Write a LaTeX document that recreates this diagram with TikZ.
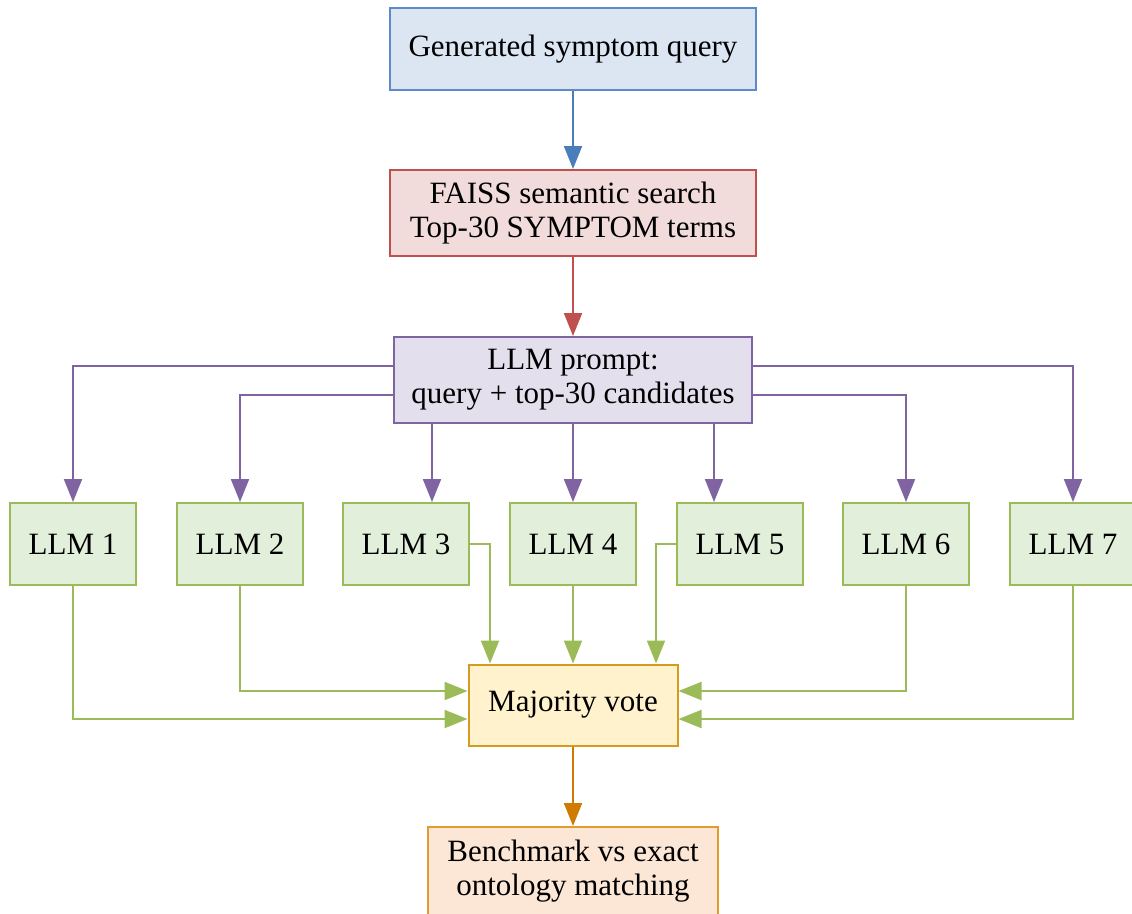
\documentclass[tikz,border=0pt]{standalone}
\usepackage{fontspec}
\setmainfont{Liberation Serif}
\usetikzlibrary{arrows.meta}
\definecolor{bfill}{HTML}{DCE6F2}\definecolor{bdraw}{HTML}{5B8BC9}\definecolor{barr}{HTML}{4A7EBB}
\definecolor{rfill}{HTML}{F2DCDB}\definecolor{rdraw}{HTML}{C0504D}
\definecolor{pfill}{HTML}{E4DFEC}\definecolor{pdraw}{HTML}{8064A2}
\definecolor{gfill}{HTML}{E2EFDA}\definecolor{gdraw}{HTML}{9BBB59}
\definecolor{yfill}{HTML}{FFF2CC}\definecolor{ydraw}{HTML}{D49B1E}
\definecolor{ofill}{HTML}{FCE6D6}\definecolor{odraw}{HTML}{E39A2E}\definecolor{oarr}{HTML}{D07A00}
\begin{document}
\begin{tikzpicture}[x=1pt,y=-1pt,
  box/.style={draw, line width=2pt, inner sep=0pt, align=center, font=\fontsize{31}{34}\selectfont},
  conn/.style={line width=2pt, -{Triangle[length=23pt,width=18pt]}}]
\useasboundingbox (0,0) rectangle (1132,913);
\node[box, fill=bfill, draw=bdraw, minimum width=366pt, minimum height=82pt] (gen) at (573,49) {Generated symptom query};
\node[box, fill=rfill, draw=rdraw, minimum width=366pt, minimum height=86pt] (faiss) at (573,213) {FAISS semantic search\\Top-30 SYMPTOM terms};
\node[box, fill=pfill, draw=pdraw, minimum width=358pt, minimum height=86pt] (prompt) at (573,380) {LLM prompt:\\query + top-30 candidates};
\foreach \i/\x in {1/73,2/240,3/406,4/573,5/740,6/906,7/1073}
  \node[box, fill=gfill, draw=gdraw, minimum width=126pt, minimum height=82pt] (l\i) at (\x,544) {LLM \i};
\node[box, fill=yfill, draw=ydraw, minimum width=209pt, minimum height=81pt] (mv) at (573,705) {Majority vote};
\node[box, fill=ofill, draw=odraw, minimum width=290pt, minimum height=88pt] (bench) at (573,871) {Benchmark vs exact\\ontology matching};
\draw[conn, barr] (gen) -- (faiss);
\draw[conn, rdraw] (faiss) -- (prompt);
\draw[conn, pdraw] ([yshift=14pt]prompt.west) -| (l1.north);
\draw[conn, pdraw] ([yshift=-15pt]prompt.west) -| (l2.north);
\draw[conn, pdraw] ([xshift=-141pt]prompt.south) -- ([xshift=26pt]l3.north);
\draw[conn, pdraw] (prompt) -- (l4);
\draw[conn, pdraw] ([xshift=141pt]prompt.south) -- ([xshift=-26pt]l5.north);
\draw[conn, pdraw] ([yshift=-15pt]prompt.east) -| (l6.north);
\draw[conn, pdraw] ([yshift=14pt]prompt.east) -| (l7.north);
\draw[conn, gdraw] (l1.south) |- ([yshift=-14pt]mv.west);
\draw[conn, gdraw] (l2.south) |- ([yshift=14pt]mv.west);
\draw[conn, gdraw] (l3.east) -| ([xshift=-83pt]mv.north);
\draw[conn, gdraw] (l4) -- (mv);
\draw[conn, gdraw] (l5.west) -| ([xshift=83pt]mv.north);
\draw[conn, gdraw] (l6.south) |- ([yshift=14pt]mv.east);
\draw[conn, gdraw] (l7.south) |- ([yshift=-14pt]mv.east);
\draw[conn, oarr] (mv) -- (bench);
\end{tikzpicture}
\end{document}
